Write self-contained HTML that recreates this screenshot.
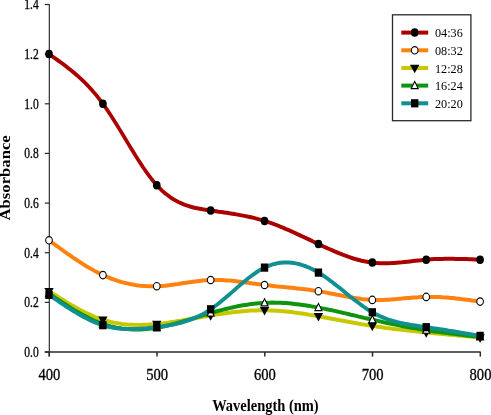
<!DOCTYPE html>
<html><head><meta charset="utf-8"><title>Absorbance vs Wavelength</title>
<style>
html,body{margin:0;padding:0;background:#fff;}
svg{display:block;will-change:transform}
text{font-family:"Liberation Serif","DejaVu Serif",serif;fill:#000}
</style></head><body>
<svg width="491" height="415" viewBox="0 0 491 415">
<rect width="491" height="415" fill="#fff"/>
<path d="M49.3 3.9V356.5" stroke="#1c1c1c" stroke-width="1.1" fill="none"/>
<path d="M44.8 352.0H480.7" stroke="#2a2a2a" stroke-width="1.3" fill="none"/>
<path d="M44.8 352.0H49.0" stroke="#2a2a2a" stroke-width="1.2"/>
<text transform="translate(38.7 356.8) scale(0.815 1)" font-size="14.2" text-anchor="end" stroke="#000" stroke-width="0.3">0.0</text>
<path d="M44.8 302.4H49.0" stroke="#2a2a2a" stroke-width="1.2"/>
<text transform="translate(38.7 307.2) scale(0.815 1)" font-size="14.2" text-anchor="end" stroke="#000" stroke-width="0.3">0.2</text>
<path d="M44.8 252.7H49.0" stroke="#2a2a2a" stroke-width="1.2"/>
<text transform="translate(38.7 257.5) scale(0.815 1)" font-size="14.2" text-anchor="end" stroke="#000" stroke-width="0.3">0.4</text>
<path d="M44.8 203.1H49.0" stroke="#2a2a2a" stroke-width="1.2"/>
<text transform="translate(38.7 207.9) scale(0.815 1)" font-size="14.2" text-anchor="end" stroke="#000" stroke-width="0.3">0.6</text>
<path d="M44.8 153.4H49.0" stroke="#2a2a2a" stroke-width="1.2"/>
<text transform="translate(38.7 158.2) scale(0.815 1)" font-size="14.2" text-anchor="end" stroke="#000" stroke-width="0.3">0.8</text>
<path d="M44.8 103.8H49.0" stroke="#2a2a2a" stroke-width="1.2"/>
<text transform="translate(38.7 108.6) scale(0.815 1)" font-size="14.2" text-anchor="end" stroke="#000" stroke-width="0.3">1.0</text>
<path d="M44.8 54.1H49.0" stroke="#2a2a2a" stroke-width="1.2"/>
<text transform="translate(38.7 58.9) scale(0.815 1)" font-size="14.2" text-anchor="end" stroke="#000" stroke-width="0.3">1.2</text>
<path d="M44.8 4.5H49.0" stroke="#2a2a2a" stroke-width="1.2"/>
<text transform="translate(38.7 9.3) scale(0.815 1)" font-size="14.2" text-anchor="end" stroke="#000" stroke-width="0.3">1.4</text>
<path d="M49.2 352.0V356.6" stroke="#2a2a2a" stroke-width="1.5"/>
<text transform="translate(49.4 380.0) scale(0.89 1)" font-size="16.4" text-anchor="middle" stroke="#000" stroke-width="0.3">400</text>
<path d="M157.0 352.0V356.6" stroke="#2a2a2a" stroke-width="1.5"/>
<text transform="translate(157.2 380.0) scale(0.89 1)" font-size="16.4" text-anchor="middle" stroke="#000" stroke-width="0.3">500</text>
<path d="M264.8 352.0V356.6" stroke="#2a2a2a" stroke-width="1.5"/>
<text transform="translate(264.9 380.0) scale(0.89 1)" font-size="16.4" text-anchor="middle" stroke="#000" stroke-width="0.3">600</text>
<path d="M372.5 352.0V356.6" stroke="#2a2a2a" stroke-width="1.5"/>
<text transform="translate(372.7 380.0) scale(0.89 1)" font-size="16.4" text-anchor="middle" stroke="#000" stroke-width="0.3">700</text>
<path d="M480.3 352.0V356.6" stroke="#2a2a2a" stroke-width="1.5"/>
<text transform="translate(480.5 380.0) scale(0.89 1)" font-size="16.4" text-anchor="middle" stroke="#000" stroke-width="0.3">800</text>
<text transform="translate(265.4 410.9) scale(0.905 1)" font-size="16" text-anchor="middle" font-weight="bold">Wavelength (nm)</text>
<text transform="translate(10.4 177.9) rotate(-90) scale(1.09 1)" font-size="15.3" text-anchor="middle" font-weight="bold">Absorbance</text>
<g transform="scale(0.9 1)">
<path d="M54.44 54.1L57.44 56.0L60.43 57.9L63.43 59.8L66.42 61.7L69.41 63.7L72.41 65.7L75.40 67.8L78.39 69.9L81.39 72.1L84.38 74.4L87.38 76.8L90.37 79.2L93.36 81.8L96.36 84.5L99.35 87.4L102.34 90.3L105.34 93.5L108.33 96.7L111.33 100.2L114.32 103.8L117.31 107.6L120.31 111.5L123.30 115.6L126.29 119.8L129.29 124.1L132.28 128.5L135.28 132.9L138.27 137.4L141.26 141.8L144.26 146.3L147.25 150.7L150.24 155.1L153.24 159.3L156.23 163.5L159.23 167.6L162.22 171.5L165.21 175.2L168.21 178.8L171.20 182.1L174.19 185.2L177.19 188.1L180.18 190.7L183.18 193.1L186.17 195.2L189.16 197.2L192.16 198.9L195.15 200.5L198.14 202.0L201.14 203.2L204.13 204.4L207.13 205.3L210.12 206.2L213.11 207.0L216.11 207.7L219.10 208.3L222.09 208.8L225.09 209.3L228.08 209.7L231.08 210.1L234.07 210.5L237.06 210.9L240.06 211.3L243.05 211.7L246.04 212.0L249.04 212.4L252.03 212.8L255.03 213.3L258.02 213.7L261.01 214.1L264.01 214.6L267.00 215.1L269.99 215.6L272.99 216.1L275.98 216.7L278.98 217.3L281.97 217.9L284.96 218.6L287.96 219.4L290.95 220.1L293.94 220.9L296.94 221.8L299.93 222.7L302.93 223.7L305.92 224.7L308.91 225.7L311.91 226.8L314.90 227.9L317.89 229.1L320.89 230.2L323.88 231.4L326.88 232.6L329.87 233.9L332.86 235.1L335.86 236.4L338.85 237.6L341.84 238.9L344.84 240.2L347.83 241.5L350.83 242.8L353.82 244.0L356.81 245.3L359.81 246.6L362.80 247.8L365.79 249.0L368.79 250.2L371.78 251.4L374.78 252.5L377.77 253.6L380.76 254.7L383.76 255.7L386.75 256.7L389.74 257.6L392.74 258.5L395.73 259.3L398.73 260.0L401.72 260.7L404.71 261.3L407.71 261.8L410.70 262.3L413.69 262.6L416.69 262.9L419.68 263.1L422.68 263.2L425.67 263.3L428.66 263.3L431.66 263.2L434.65 263.1L437.64 262.9L440.64 262.7L443.63 262.5L446.63 262.3L449.62 262.0L452.61 261.7L455.61 261.4L458.60 261.1L461.59 260.7L464.59 260.4L467.58 260.2L470.58 259.9L473.57 259.7L476.56 259.5L479.56 259.3L482.55 259.1L485.54 259.0L488.54 258.9L491.53 258.9L494.53 258.8L497.52 258.8L500.51 258.8L503.51 258.8L506.50 258.9L509.49 258.9L512.49 259.0L515.48 259.1L518.48 259.1L521.47 259.2L524.46 259.3L527.46 259.4L530.45 259.6L533.44 259.7" fill="none" stroke="#aa0000" stroke-width="4.0" stroke-linejoin="round" stroke-linecap="butt"/>
<circle cx="54.44" cy="54.1" r="4.25" fill="#000"/>
<circle cx="114.32" cy="103.8" r="4.25" fill="#000"/>
<circle cx="174.19" cy="185.2" r="4.25" fill="#000"/>
<circle cx="234.07" cy="210.5" r="4.25" fill="#000"/>
<circle cx="293.94" cy="220.9" r="4.25" fill="#000"/>
<circle cx="353.82" cy="244.0" r="4.25" fill="#000"/>
<circle cx="413.69" cy="262.6" r="4.25" fill="#000"/>
<circle cx="473.57" cy="259.7" r="4.25" fill="#000"/>
<circle cx="533.44" cy="259.7" r="4.25" fill="#000"/>
<path d="M54.44 240.3L57.44 242.3L60.43 244.3L63.43 246.2L66.42 248.2L69.41 250.1L72.41 252.1L75.40 254.0L78.39 255.8L81.39 257.7L84.38 259.5L87.38 261.3L90.37 263.0L93.36 264.7L96.36 266.4L99.35 268.0L102.34 269.5L105.34 271.0L108.33 272.4L111.33 273.8L114.32 275.1L117.31 276.3L120.31 277.4L123.30 278.5L126.29 279.5L129.29 280.4L132.28 281.3L135.28 282.1L138.27 282.8L141.26 283.4L144.26 284.0L147.25 284.5L150.24 285.0L153.24 285.4L156.23 285.7L159.23 285.9L162.22 286.1L165.21 286.2L168.21 286.3L171.20 286.3L174.19 286.2L177.19 286.1L180.18 285.9L183.18 285.7L186.17 285.4L189.16 285.1L192.16 284.7L195.15 284.3L198.14 284.0L201.14 283.5L204.13 283.1L207.13 282.7L210.12 282.3L213.11 281.9L216.11 281.5L219.10 281.2L222.09 280.9L225.09 280.6L228.08 280.3L231.08 280.2L234.07 280.0L237.06 279.9L240.06 279.9L243.05 280.0L246.04 280.1L249.04 280.2L252.03 280.4L255.03 280.6L258.02 280.8L261.01 281.1L264.01 281.4L267.00 281.7L269.99 282.1L272.99 282.4L275.98 282.8L278.98 283.2L281.97 283.5L284.96 283.9L287.96 284.3L290.95 284.6L293.94 285.0L296.94 285.3L299.93 285.6L302.93 285.9L305.92 286.2L308.91 286.5L311.91 286.7L314.90 287.0L317.89 287.3L320.89 287.5L323.88 287.8L326.88 288.1L329.87 288.4L332.86 288.7L335.86 289.0L338.85 289.3L341.84 289.6L344.84 290.0L347.83 290.4L350.83 290.8L353.82 291.2L356.81 291.6L359.81 292.1L362.80 292.6L365.79 293.2L368.79 293.7L371.78 294.2L374.78 294.8L377.77 295.3L380.76 295.8L383.76 296.4L386.75 296.9L389.74 297.3L392.74 297.8L395.73 298.2L398.73 298.6L401.72 299.0L404.71 299.3L407.71 299.5L410.70 299.7L413.69 299.9L416.69 300.0L419.68 300.0L422.68 300.0L425.67 299.9L428.66 299.8L431.66 299.7L434.65 299.5L437.64 299.3L440.64 299.1L443.63 298.8L446.63 298.6L449.62 298.3L452.61 298.1L455.61 297.9L458.60 297.6L461.59 297.4L464.59 297.3L467.58 297.1L470.58 297.0L473.57 296.9L476.56 296.9L479.56 296.9L482.55 296.9L485.54 297.0L488.54 297.1L491.53 297.3L494.53 297.4L497.52 297.6L500.51 297.9L503.51 298.1L506.50 298.4L509.49 298.7L512.49 299.1L515.48 299.4L518.48 299.7L521.47 300.1L524.46 300.5L527.46 300.8L530.45 301.2L533.44 301.6" fill="none" stroke="#ff8210" stroke-width="4.0" stroke-linejoin="round" stroke-linecap="butt"/>
<circle cx="54.44" cy="240.3" r="3.7" fill="#fff" stroke="#000" stroke-width="1.15"/>
<circle cx="114.32" cy="275.1" r="3.7" fill="#fff" stroke="#000" stroke-width="1.15"/>
<circle cx="174.19" cy="286.2" r="3.7" fill="#fff" stroke="#000" stroke-width="1.15"/>
<circle cx="234.07" cy="280.0" r="3.7" fill="#fff" stroke="#000" stroke-width="1.15"/>
<circle cx="293.94" cy="285.0" r="3.7" fill="#fff" stroke="#000" stroke-width="1.15"/>
<circle cx="353.82" cy="291.2" r="3.7" fill="#fff" stroke="#000" stroke-width="1.15"/>
<circle cx="413.69" cy="299.9" r="3.7" fill="#fff" stroke="#000" stroke-width="1.15"/>
<circle cx="473.57" cy="296.9" r="3.7" fill="#fff" stroke="#000" stroke-width="1.15"/>
<circle cx="533.44" cy="301.6" r="3.7" fill="#fff" stroke="#000" stroke-width="1.15"/>
<path d="M54.44 291.2L57.44 292.9L60.43 294.6L63.43 296.3L66.42 298.0L69.41 299.6L72.41 301.3L75.40 302.9L78.39 304.5L81.39 306.0L84.38 307.6L87.38 309.0L90.37 310.5L93.36 311.8L96.36 313.2L99.35 314.4L102.34 315.6L105.34 316.8L108.33 317.8L111.33 318.8L114.32 319.7L117.31 320.6L120.31 321.3L123.30 322.0L126.29 322.6L129.29 323.1L132.28 323.5L135.28 323.9L138.27 324.2L141.26 324.5L144.26 324.7L147.25 324.8L150.24 324.9L153.24 324.9L156.23 324.9L159.23 324.8L162.22 324.7L165.21 324.6L168.21 324.4L171.20 324.2L174.19 324.0L177.19 323.7L180.18 323.4L183.18 323.0L186.17 322.7L189.16 322.3L192.16 321.9L195.15 321.5L198.14 321.1L201.14 320.7L204.13 320.2L207.13 319.7L210.12 319.3L213.11 318.8L216.11 318.3L219.10 317.9L222.09 317.4L225.09 316.9L228.08 316.4L231.08 316.0L234.07 315.5L237.06 315.1L240.06 314.6L243.05 314.2L246.04 313.8L249.04 313.4L252.03 313.0L255.03 312.7L258.02 312.3L261.01 312.0L264.01 311.7L267.00 311.5L269.99 311.2L272.99 311.0L275.98 310.8L278.98 310.6L281.97 310.5L284.96 310.4L287.96 310.3L290.95 310.3L293.94 310.3L296.94 310.3L299.93 310.4L302.93 310.5L305.92 310.7L308.91 310.8L311.91 311.1L314.90 311.3L317.89 311.5L320.89 311.8L323.88 312.1L326.88 312.5L329.87 312.8L332.86 313.2L335.86 313.6L338.85 314.0L341.84 314.4L344.84 314.9L347.83 315.3L350.83 315.8L353.82 316.3L356.81 316.7L359.81 317.2L362.80 317.7L365.79 318.2L368.79 318.7L371.78 319.2L374.78 319.7L377.77 320.2L380.76 320.7L383.76 321.2L386.75 321.7L389.74 322.2L392.74 322.7L395.73 323.2L398.73 323.7L401.72 324.2L404.71 324.6L407.71 325.1L410.70 325.5L413.69 325.9L416.69 326.3L419.68 326.7L422.68 327.1L425.67 327.5L428.66 327.9L431.66 328.2L434.65 328.6L437.64 328.9L440.64 329.2L443.63 329.5L446.63 329.8L449.62 330.1L452.61 330.4L455.61 330.7L458.60 331.0L461.59 331.3L464.59 331.6L467.58 331.9L470.58 332.1L473.57 332.4L476.56 332.7L479.56 332.9L482.55 333.2L485.54 333.5L488.54 333.7L491.53 334.0L494.53 334.2L497.52 334.5L500.51 334.8L503.51 335.0L506.50 335.3L509.49 335.5L512.49 335.8L515.48 336.1L518.48 336.3L521.47 336.6L524.46 336.8L527.46 337.1L530.45 337.3L533.44 337.6" fill="none" stroke="#c8c800" stroke-width="4.0" stroke-linejoin="round" stroke-linecap="butt"/>
<path d="M49.24 287.9L59.64 287.9L54.44 296.5Z" fill="#000"/>
<path d="M109.12 316.4L119.52 316.4L114.32 325.0Z" fill="#000"/>
<path d="M168.99 320.7L179.39 320.7L174.19 329.3Z" fill="#000"/>
<path d="M228.87 312.2L239.27 312.2L234.07 320.8Z" fill="#000"/>
<path d="M288.74 307.0L299.14 307.0L293.94 315.6Z" fill="#000"/>
<path d="M348.62 313.0L359.02 313.0L353.82 321.6Z" fill="#000"/>
<path d="M408.49 322.6L418.89 322.6L413.69 331.2Z" fill="#000"/>
<path d="M468.37 329.1L478.77 329.1L473.57 337.7Z" fill="#000"/>
<path d="M528.24 334.3L538.64 334.3L533.44 342.9Z" fill="#000"/>
<path d="M54.44 293.7L57.44 295.5L60.43 297.3L63.43 299.1L66.42 300.8L69.41 302.6L72.41 304.3L75.40 306.0L78.39 307.7L81.39 309.4L84.38 311.0L87.38 312.5L90.37 314.1L93.36 315.5L96.36 316.9L99.35 318.3L102.34 319.6L105.34 320.8L108.33 321.9L111.33 323.0L114.32 324.0L117.31 324.8L120.31 325.7L123.30 326.4L126.29 327.0L129.29 327.6L132.28 328.1L135.28 328.5L138.27 328.8L141.26 329.1L144.26 329.3L147.25 329.4L150.24 329.5L153.24 329.4L156.23 329.4L159.23 329.2L162.22 329.0L165.21 328.8L168.21 328.5L171.20 328.1L174.19 327.7L177.19 327.2L180.18 326.7L183.18 326.1L186.17 325.5L189.16 324.9L192.16 324.2L195.15 323.5L198.14 322.7L201.14 322.0L204.13 321.2L207.13 320.4L210.12 319.6L213.11 318.8L216.11 317.9L219.10 317.1L222.09 316.3L225.09 315.4L228.08 314.6L231.08 313.8L234.07 313.0L237.06 312.3L240.06 311.5L243.05 310.8L246.04 310.1L249.04 309.4L252.03 308.7L255.03 308.1L258.02 307.5L261.01 306.9L264.01 306.3L267.00 305.8L269.99 305.3L272.99 304.9L275.98 304.5L278.98 304.1L281.97 303.8L284.96 303.5L287.96 303.2L290.95 303.0L293.94 302.9L296.94 302.7L299.93 302.7L302.93 302.6L305.92 302.7L308.91 302.7L311.91 302.8L314.90 303.0L317.89 303.1L320.89 303.3L323.88 303.6L326.88 303.9L329.87 304.2L332.86 304.5L335.86 304.9L338.85 305.3L341.84 305.7L344.84 306.1L347.83 306.6L350.83 307.1L353.82 307.6L356.81 308.1L359.81 308.6L362.80 309.2L365.79 309.8L368.79 310.3L371.78 310.9L374.78 311.5L377.77 312.1L380.76 312.8L383.76 313.4L386.75 314.0L389.74 314.7L392.74 315.3L395.73 315.9L398.73 316.6L401.72 317.2L404.71 317.9L407.71 318.5L410.70 319.1L413.69 319.7L416.69 320.3L419.68 320.9L422.68 321.5L425.67 322.1L428.66 322.7L431.66 323.3L434.65 323.8L437.64 324.4L440.64 324.9L443.63 325.4L446.63 326.0L449.62 326.5L452.61 327.0L455.61 327.5L458.60 327.9L461.59 328.4L464.59 328.9L467.58 329.3L470.58 329.7L473.57 330.2L476.56 330.6L479.56 331.0L482.55 331.4L485.54 331.7L488.54 332.1L491.53 332.5L494.53 332.8L497.52 333.1L500.51 333.5L503.51 333.8L506.50 334.1L509.49 334.4L512.49 334.8L515.48 335.1L518.48 335.4L521.47 335.7L524.46 336.0L527.46 336.3L530.45 336.6L533.44 336.9" fill="none" stroke="#109410" stroke-width="4.0" stroke-linejoin="round" stroke-linecap="butt"/>
<path d="M50.54 296.7L58.34 296.7L54.44 289.5Z" fill="#fff" stroke="#000" stroke-width="1.15" stroke-linejoin="miter"/>
<path d="M110.42 327.0L118.22 327.0L114.32 319.8Z" fill="#fff" stroke="#000" stroke-width="1.15" stroke-linejoin="miter"/>
<path d="M170.29 330.7L178.09 330.7L174.19 323.5Z" fill="#fff" stroke="#000" stroke-width="1.15" stroke-linejoin="miter"/>
<path d="M230.17 316.0L237.97 316.0L234.07 308.8Z" fill="#fff" stroke="#000" stroke-width="1.15" stroke-linejoin="miter"/>
<path d="M290.04 305.9L297.84 305.9L293.94 298.7Z" fill="#fff" stroke="#000" stroke-width="1.15" stroke-linejoin="miter"/>
<path d="M349.92 310.6L357.72 310.6L353.82 303.4Z" fill="#fff" stroke="#000" stroke-width="1.15" stroke-linejoin="miter"/>
<path d="M409.79 322.7L417.59 322.7L413.69 315.5Z" fill="#fff" stroke="#000" stroke-width="1.15" stroke-linejoin="miter"/>
<path d="M469.67 333.2L477.47 333.2L473.57 326.0Z" fill="#fff" stroke="#000" stroke-width="1.15" stroke-linejoin="miter"/>
<path d="M529.54 339.9L537.34 339.9L533.44 332.7Z" fill="#fff" stroke="#000" stroke-width="1.15" stroke-linejoin="miter"/>
<path d="M54.44 294.9L57.44 296.8L60.43 298.6L63.43 300.4L66.42 302.3L69.41 304.1L72.41 305.9L75.40 307.6L78.39 309.3L81.39 311.0L84.38 312.6L87.38 314.2L90.37 315.7L93.36 317.1L96.36 318.5L99.35 319.9L102.34 321.1L105.34 322.3L108.33 323.3L111.33 324.3L114.32 325.2L117.31 326.0L120.31 326.7L123.30 327.3L126.29 327.8L129.29 328.2L132.28 328.5L135.28 328.8L138.27 329.0L141.26 329.1L144.26 329.1L147.25 329.1L150.24 329.1L153.24 329.0L156.23 328.8L159.23 328.6L162.22 328.4L165.21 328.1L168.21 327.8L171.20 327.5L174.19 327.2L177.19 326.8L180.18 326.4L183.18 326.0L186.17 325.6L189.16 325.1L192.16 324.6L195.15 324.0L198.14 323.4L201.14 322.7L204.13 321.9L207.13 321.1L210.12 320.1L213.11 319.1L216.11 318.1L219.10 316.9L222.09 315.6L225.09 314.2L228.08 312.7L231.08 311.1L234.07 309.3L237.06 307.4L240.06 305.4L243.05 303.4L246.04 301.2L249.04 298.9L252.03 296.6L255.03 294.3L258.02 292.0L261.01 289.6L264.01 287.2L267.00 284.9L269.99 282.6L272.99 280.4L275.98 278.2L278.98 276.2L281.97 274.2L284.96 272.3L287.96 270.6L290.95 269.0L293.94 267.6L296.94 266.4L299.93 265.3L302.93 264.4L305.92 263.7L308.91 263.1L311.91 262.7L314.90 262.5L317.89 262.4L320.89 262.5L323.88 262.7L326.88 263.1L329.87 263.6L332.86 264.3L335.86 265.1L338.85 266.0L341.84 267.1L344.84 268.2L347.83 269.6L350.83 271.0L353.82 272.6L356.81 274.2L359.81 276.0L362.80 277.9L365.79 279.9L368.79 281.9L371.78 284.0L374.78 286.1L377.77 288.2L380.76 290.4L383.76 292.6L386.75 294.8L389.74 297.0L392.74 299.1L395.73 301.2L398.73 303.2L401.72 305.2L404.71 307.1L407.71 309.0L410.70 310.7L413.69 312.3L416.69 313.8L419.68 315.1L422.68 316.4L425.67 317.5L428.66 318.6L431.66 319.6L434.65 320.4L437.64 321.2L440.64 322.0L443.63 322.6L446.63 323.2L449.62 323.8L452.61 324.3L455.61 324.8L458.60 325.2L461.59 325.6L464.59 326.0L467.58 326.4L470.58 326.8L473.57 327.2L476.56 327.6L479.56 328.0L482.55 328.4L485.54 328.8L488.54 329.2L491.53 329.6L494.53 330.0L497.52 330.5L500.51 330.9L503.51 331.3L506.50 331.8L509.49 332.2L512.49 332.7L515.48 333.1L518.48 333.6L521.47 334.0L524.46 334.5L527.46 334.9L530.45 335.4L533.44 335.9" fill="none" stroke="#109090" stroke-width="4.0" stroke-linejoin="round" stroke-linecap="butt"/>
<rect x="50.34" y="290.8" width="8.2" height="8.2" fill="#000"/>
<rect x="110.22" y="321.1" width="8.2" height="8.2" fill="#000"/>
<rect x="170.09" y="323.1" width="8.2" height="8.2" fill="#000"/>
<rect x="229.97" y="305.2" width="8.2" height="8.2" fill="#000"/>
<rect x="289.84" y="263.5" width="8.2" height="8.2" fill="#000"/>
<rect x="349.72" y="268.5" width="8.2" height="8.2" fill="#000"/>
<rect x="409.59" y="308.2" width="8.2" height="8.2" fill="#000"/>
<rect x="469.47" y="323.1" width="8.2" height="8.2" fill="#000"/>
<rect x="529.34" y="331.8" width="8.2" height="8.2" fill="#000"/>
</g>
<rect x="392.5" y="14.8" width="78.4" height="105.9" fill="#fff" stroke="#2a2a2a" stroke-width="1.3"/>
<g transform="scale(0.9 1)"><path d="M445.89 32.6H475.78" stroke="#aa0000" stroke-width="4.0"/><circle cx="460.78" cy="32.6" r="4.25" fill="#000"/></g>
<text transform="translate(435.0 37.1) scale(0.94 1)" font-size="13.0" text-anchor="start">04:36</text>
<g transform="scale(0.9 1)"><path d="M445.89 50.3H475.78" stroke="#ff8210" stroke-width="4.0"/><circle cx="460.78" cy="50.3" r="3.7" fill="#fff" stroke="#000" stroke-width="1.15"/></g>
<text transform="translate(435.0 54.8) scale(0.94 1)" font-size="13.0" text-anchor="start">08:32</text>
<g transform="scale(0.9 1)"><path d="M445.89 68.0H475.78" stroke="#c8c800" stroke-width="4.0"/><path d="M455.58 64.7L465.98 64.7L460.78 73.3Z" fill="#000"/></g>
<text transform="translate(435.0 72.5) scale(0.94 1)" font-size="13.0" text-anchor="start">12:28</text>
<g transform="scale(0.9 1)"><path d="M445.89 85.6H475.78" stroke="#109410" stroke-width="4.0"/><path d="M456.88 88.6L464.68 88.6L460.78 81.4Z" fill="#fff" stroke="#000" stroke-width="1.15" stroke-linejoin="miter"/></g>
<text transform="translate(435.0 90.1) scale(0.94 1)" font-size="13.0" text-anchor="start">16:24</text>
<g transform="scale(0.9 1)"><path d="M445.89 103.3H475.78" stroke="#109090" stroke-width="4.0"/><rect x="456.68" y="99.2" width="8.2" height="8.2" fill="#000"/></g>
<text transform="translate(435.0 107.8) scale(0.94 1)" font-size="13.0" text-anchor="start">20:20</text>
</svg></body></html>
